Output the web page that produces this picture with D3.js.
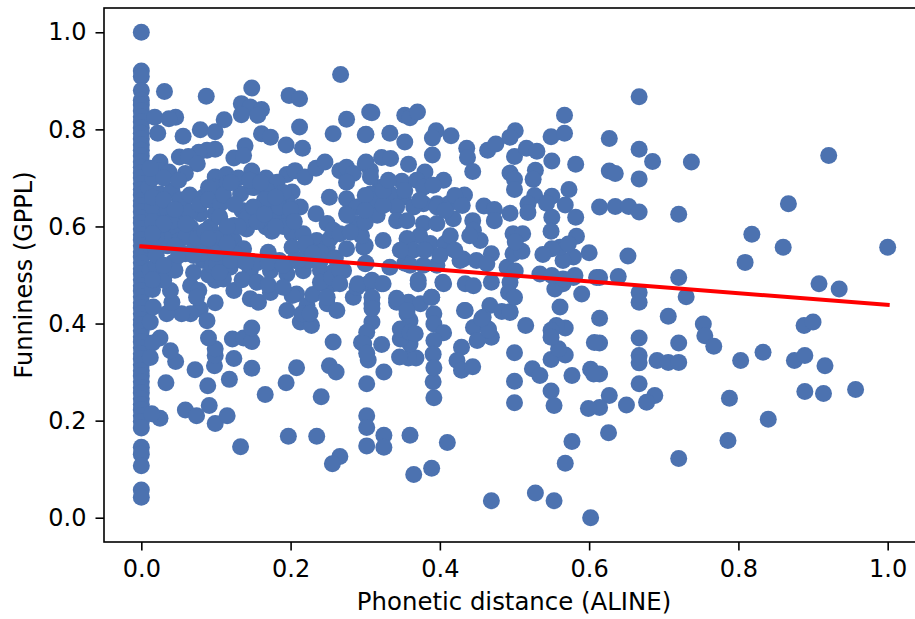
<!DOCTYPE html>
<meta charset="utf-8">
<title>Funniness vs phonetic distance</title>
<style>
html, body { margin: 0; padding: 0; background: #fff; overflow: hidden; }
text { font-family: "DejaVu Sans", sans-serif; fill: #000; }
</style>
<script src="https://d3js.org/d3.v7.min.js"></script>
<div id="chart"></div>
<script>

// words with zero distance, only the funniness varies
var zeroDistance = [1.0, .920, .909, .88, .86, .85, .838, .826, .815, .803, .792, .78, .768, .757, .745, .733, .722, .71, .70, .688, .676, .665, .653, .642, .63, .618, .607, .595, .583, .572, .56, .548, .537, .525, .513, .502, .49, .478, .467, .455, .443, .432, .42, .408, .397, .385, .373, .362, .35, .338, .327, .315, .303, .292, .28, .268, .257, .245, .233, .222, .21, .198, .185, .145, .131, .107, .057, .042];

var nearPoints = [[.031,.878],[.087,.868],[.018,.825],[.046,.825],[.037,.822],[.022,.792],[.056,.786],[.079,.799],[.099,.795],[.099,.759],[.088,.757],[.077,.753],[.051,.743],[.063,.744],[.075,.729],[.025,.733],[.025,.715],[.037,.712],[.059,.709],[.099,.702],[.097,.681],[.083,.660],[.057,.654],[.048,.626],[.025,.667],[.025,.626],[.041,.674],[.021,.599],[.043,.592],[.066,.599],[.092,.599],[.099,.626],[.079,.626],[.043,.526],[.059,.544],[.030,.495],[.083,.530],[.025,.205],[.014,.214],[.059,.222],[.074,.210],[.091,.231],[.099,.194],[.033,.278],[.089,.272],[.072,.305],[.046,.322],[.039,.344],[.025,.370],[.098,.313],[.099,.334],[.099,.348],[.090,.370],[.099,.443],[.079,.430],[.088,.406],[.066,.420],[.054,.420],[.034,.420],[.041,.444],[.012,.403],[.016,.434],[.066,.478],[.077,.468],[.074,.454],[.039,.468],[.030,.489],[.099,.489],[.012,.56],[.02,.55],[.035,.56],[.05,.57],[.07,.57],[.09,.555],[.015,.64],[.01,.68],[.012,.51],[.02,.52],[.015,.47],[.045,.51],[.07,.505],[.09,.50],[.015,.36],[.012,.33],[.015,.70],[.03,.70],[.05,.695],[.052,.655],[.065,.665],[.097,.66],[.035,.635],[.05,.615],[.065,.63],[.04,.61],[.06,.58],[.075,.575],[.03,.575],[.045,.56],[.08,.545],[.02,.58],[.02,.54],[.015,.49],[.015,.61],[.015,.66],[.012,.72],[.03,.655],[.045,.635],[.078,.645],[.09,.68],[.09,.655],[.06,.605],[.03,.605],[.085,.59],[.05,.54],[.07,.54],[.095,.52],[.03,.52],[.015,.585]];

var lowPoints = [[.148,.885],[.198,.870],[.212,.863],[.134,.853],[.146,.846],[.161,.841],[.134,.830],[.156,.829],[.111,.820],[.212,.805],[.161,.791],[.173,.784],[.194,.768],[.216,.761],[.139,.766],[.124,.741],[.137,.746],[.114,.707],[.148,.714],[.167,.700],[.195,.707],[.206,.715],[.219,.702],[.234,.720],[.246,.733],[.182,.691],[.168,.674],[.173,.647],[.135,.633],[.155,.626],[.167,.599],[.182,.619],[.199,.619],[.141,.595],[.124,.602],[.133,.667],[.115,.688],[.106,.647],[.110,.585],[.124,.571],[.137,.554],[.170,.547],[.202,.585],[.217,.585],[.202,.557],[.235,.571],[.249,.557],[.222,.544],[.240,.547],[.217,.509],[.101,.523],[.119,.516],[.146,.509],[.173,.509],[.195,.502],[.213,.640],[.202,.671],[.195,.654],[.252,.660],[.234,.626],[.249,.606],[.133,.146],[.115,.210],[.118,.285],[.166,.254],[.194,.278],[.208,.309],[.241,.249],[.197,.168],[.235,.168],[.266,.126],[.256,.111],[.124,.328],[.148,.308],[.122,.368],[.137,.370],[.148,.363],[.148,.391],[.257,.362],[.252,.313],[.261,.300],[.124,.468],[.146,.451],[.157,.444],[.173,.464],[.110,.492],[.208,.461],[.195,.427],[.213,.403],[.228,.396],[.222,.437],[.202,.458],[.249,.441],[.262,.427],[.244,.482],[.257,.482],[.135,.49],[.155,.485],[.17,.48],[.19,.475],[.225,.42],[.215,.42],[.23,.46],[.24,.51],[.257,.506],[.225,.53],[.185,.53],[.10,.575],[.11,.55],[.125,.545],[.10,.545],[.105,.505],[.13,.70],[.15,.68],[.105,.62],[.14,.615],[.165,.655],[.19,.67],[.185,.64],[.20,.635],[.19,.60],[.175,.59],[.155,.525],[.135,.53],[.205,.53],[.22,.565],[.24,.53],[.26,.535],[.253,.575],[.257,.592],[.240,.485],[.255,.495],[.249,.454],[.226,.421],[.11,.665],[.12,.69],[.145,.695],[.16,.69],[.18,.66],[.125,.645],[.15,.64],[.13,.60],[.155,.61],[.115,.60],[.115,.565],[.09,.575],[.205,.61],[.165,.625],[.18,.60],[.12,.53],[.14,.525],[.17,.525],[.19,.52],[.21,.53],[.23,.545]];

var midPoints = [[.267,.913],[.275,.821],[.306,.836],[.257,.791],[.300,.789],[.266,.715],[.275,.722],[.284,.709],[.275,.691],[.300,.729],[.307,.715],[.275,.657],[.275,.626],[.275,.554],[.266,.585],[.298,.557],[.300,.523],[.271,.509],[.309,.834],[.353,.829],[.360,.824],[.370,.836],[.301,.790],[.333,.792],[.353,.774],[.395,.797],[.390,.782],[.415,.787],[.436,.761],[.437,.742],[.444,.713],[.390,.747],[.358,.728],[.322,.742],[.334,.740],[.301,.733],[.464,.757],[.475,.770],[.433,.665],[.459,.642],[.473,.635],[.473,.612],[.494,.627],[.412,.647],[.405,.695],[.380,.712],[.349,.693],[.320,.680],[.307,.702],[.369,.695],[.378,.681],[.391,.685],[.307,.667],[.333,.667],[.351,.660],[.396,.647],[.378,.647],[.365,.640],[.418,.616],[.444,.612],[.445,.592],[.454,.571],[.469,.544],[.431,.533],[.449,.530],[.463,.523],[.490,.516],[.434,.482],[.445,.478],[.469,.485],[.494,.485],[.492,.464],[.467,.437],[.458,.413],[.434,.427],[.445,.392],[.465,.389],[.469,.372],[.304,.482],[.322,.482],[.309,.441],[.356,.420],[.360,.406],[.342,.444],[.358,.444],[.374,.441],[.371,.482],[.405,.482],[.389,.454],[.392,.42],[.392,.399],[.405,.381],[.392,.365],[.391,.337],[.368,.329],[.358,.329],[.346,.331],[.322,.357],[.304,.325],[.360,.358],[.347,.368],[.347,.389],[.360,.382],[.367,.379],[.309,.403],[.295,.361],[.429,.351],[.423,.324],[.429,.304],[.444,.311],[.450,.365],[.465,.386],[.456,.410],[.483,.425],[.494,.425],[.494,.423],[.433,.427],[.302,.382],[.298,.358],[.302,.339],[.302,.276],[.302,.210],[.302,.186],[.302,.148],[.325,.170],[.325,.145],[.360,.170],[.365,.089],[.389,.102],[.410,.155],[.392,.247],[.391,.280],[.392,.309],[.325,.300],[.469,.035],[.284,.454],[.289,.475],[.289,.640],[.311,.654],[.333,.668],[.289,.606],[.316,.623],[.342,.640],[.342,.612],[.373,.654],[.396,.640],[.378,.606],[.396,.606],[.373,.581],[.356,.575],[.300,.561],[.324,.571],[.295,.581],[.364,.551],[.387,.565],[.407,.565],[.427,.530],[.266,.509],[.266,.482],[.309,.454],[.309,.431],[.290,.482],[.309,.489],[.324,.482],[.301,.524],[.333,.516],[.342,.452],[.356,.427],[.371,.489],[.389,.454],[.404,.485],[.396,.520],[.378,.520],[.353,.524],[.347,.551],[.276,.623],[.300,.664],[.324,.643],[.300,.608],[.280,.588],[.353,.674],[.324,.674],[.356,.612],[.300,.633],[.331,.695],[.414,.581],[.400,.540],[.420,.664],[.407,.633],[.380,.551],[.360,.520],[.420,.551],[.440,.581],[.430,.643]];

var highPoints = [[.667,.867],[.627,.781],[.667,.759],[.685,.734],[.737,.733],[.921,.746],[.627,.714],[.635,.709],[.667,.698],[.614,.640],[.635,.641],[.653,.641],[.667,.630],[.720,.625],[.867,.647],[.818,.584],[.860,.557],[1.0,.557],[.809,.526],[.652,.539],[.639,.497],[.614,.495],[.720,.495],[.908,.482],[.935,.471],[.667,.464],[.667,.444],[.730,.455],[.706,.415],[.753,.399],[.755,.375],[.767,.353],[.614,.411],[.667,.370],[.720,.360],[.614,.360],[.667,.334],[.667,.319],[.691,.324],[.706,.320],[.720,.320],[.803,.324],[.833,.341],[.875,.324],[.889,.334],[.888,.396],[.900,.403],[.916,.313],[.614,.296],[.667,.276],[.889,.260],[.914,.256],[.957,.264],[.627,.252],[.650,.232],[.614,.227],[.688,.252],[.677,.238],[.788,.246],[.840,.203],[.786,.159],[.626,.175],[.720,.122],[.602,0],[.553,.035],[.528,.051],[.568,.112],[.577,.157],[.500,.237],[.500,.281],[.553,.231],[.549,.261],[.599,.225],[.577,.293],[.524,.307],[.534,.293],[.602,.306],[.606,.296],[.500,.340],[.549,.326],[.568,.335],[.559,.348],[.607,.361],[.561,.434],[.590,.461],[.515,.396],[.568,.391],[.556,.396],[.549,.386],[.549,.372],[.500,.454],[.554,.471],[.565,.482],[.579,.495],[.610,.495],[.501,.797],[.494,.784],[.500,.744],[.516,.761],[.530,.755],[.550,.735],[.549,.785],[.567,.792],[.567,.829],[.582,.728],[.494,.710],[.500,.697],[.500,.676],[.528,.716],[.525,.697],[.527,.664],[.518,.647],[.518,.629],[.550,.662],[.573,.676],[.543,.648],[.568,.644],[.582,.619],[.550,.619],[.549,.590],[.583,.580],[.600,.546],[.579,.537],[.565,.530],[.561,.557],[.550,.554],[.538,.542],[.572,.564],[.498,.585],[.511,.585],[.498,.544],[.510,.549],[.501,.568],[.501,.508],[.534,.502],[.550,.499],[.565,.492],[.581,.499]];

var fitX = [0, 1];
var fitY = [.559, .4385];

var xTicks = [0, .2, .4, .6, .8, 1];
var yTicks = [0, .2, .4, .6, .8, 1];
var xTitle = "Phonetic distance (ALINE)";
var yTitle = "Funniness (GPPL)";

var width = 915, height = 619,
    margin = {top: 8, right: -10, bottom: 77, left: 104},
    plotW = width - margin.left - margin.right,
    plotH = height - margin.top - margin.bottom;

var x = d3.scaleLinear().domain([-.05, 1.05]).range([0, plotW]);
var y = d3.scaleLinear().domain([-.05, 1.05]).range([plotH, 0]);

var svg = d3.select("#chart").append("svg")
    .attr("width", width)
    .attr("height", height)
    .style("display", "block");

var g = svg.append("g")
    .attr("transform", "translate(" + margin.left + "," + margin.top + ")");

var points = zeroDistance.map(function(d) { return [0, d]; })
    .concat(nearPoints, lowPoints, midPoints, highPoints);

g.selectAll("circle")
    .data(points)
    .enter().append("circle")
    .attr("cx", function(d) { return x(d[0]); })
    .attr("cy", function(d) { return y(d[1]); })
    .attr("r", 8.5)
    .attr("fill", "#4c72b0");

var line = d3.line()
    .x(function(d) { return x(d); })
    .y(function(d, i) { return y(fitY[i]); });

g.append("path")
    .attr("d", line(fitX))
    .attr("fill", "none")
    .attr("stroke", "#ff0000")
    .attr("stroke-width", 4)
    .attr("stroke-linecap", "square");

g.append("g")
    .attr("transform", "translate(0," + plotH + ")")
    .call(d3.axisBottom(x).tickValues(xTicks).tickFormat(d3.format(".1f")).tickSize(8.5).tickPadding(9));

g.append("g")
    .call(d3.axisLeft(y).tickValues(yTicks).tickFormat(d3.format(".1f")).tickSize(8.5).tickPadding(9));

g.selectAll(".tick line").attr("stroke", "#000").attr("stroke-width", 1.6);
g.selectAll(".domain").remove();
g.selectAll(".tick text").style("font-size", "24px");

// frame, the right side falls outside the window like in the original
g.append("rect")
    .attr("width", plotW)
    .attr("height", plotH)
    .attr("fill", "none")
    .attr("stroke", "#000")
    .attr("stroke-width", 1.6);

svg.append("text")
    .attr("x", 514)
    .attr("y", 610)
    .attr("text-anchor", "middle")
    .style("font-size", "24.4px")
    .text(xTitle);

svg.append("text")
    .attr("transform", "translate(32,275) rotate(-90)")
    .attr("text-anchor", "middle")
    .style("font-size", "24px")
    .text(yTitle);

</script>
